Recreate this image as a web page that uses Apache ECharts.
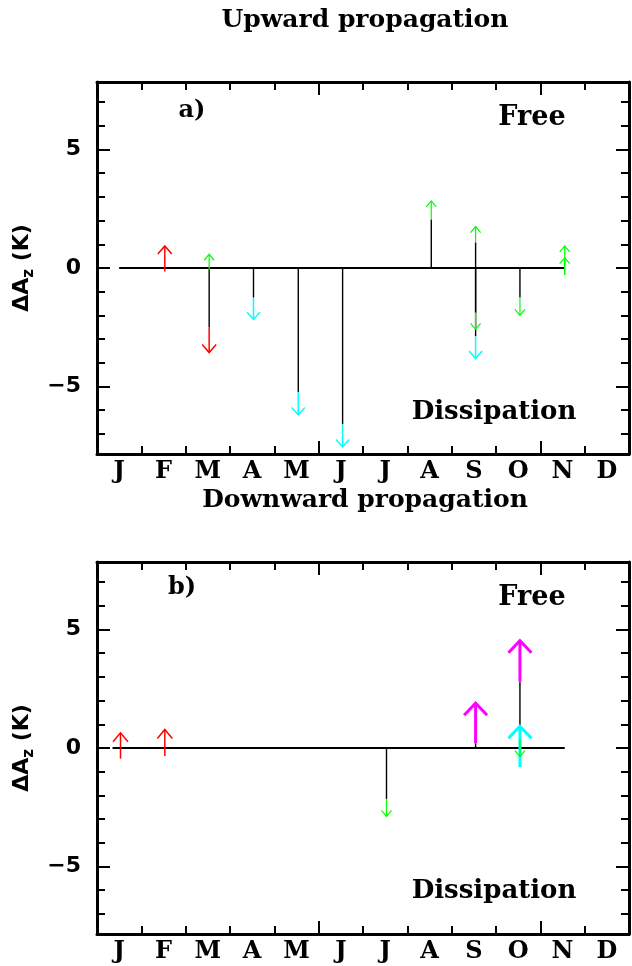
<!DOCTYPE html>
<html>
<head>
<meta charset="utf-8">
<script src="https://cdn.jsdelivr.net/npm/echarts@6/dist/echarts.min.js"></script>
<style>
  html, body { margin: 0; padding: 0; background: #fff; }
  #chart { width: 632px; height: 966px; }
</style>
</head>
<body>
<div id="chart"></div>
<script>
// month letters, one per month (labels at the middle of each month)
const monthLabels = ['J', 'F', 'M', 'A', 'M', 'J', 'J', 'A', 'S', 'O', 'N', 'D'];
const yTickLabels = [-5, 0, 5];

// arrows: [month position, tail, tip] in K
// a) upward propagation
const upperRed = [[1.53, -0.15, 0.93], [2.53, -2.5, -3.57]];
const upperGreen = [[2.53, -0.1, 0.58], [7.54, 2.05, 2.83], [8.54, 1.08, 1.75], [8.54, -1.88, -2.59],
  [9.54, -1.25, -2.0], [10.55, -0.3, 0.44], [10.55, -0.3, 0.93]];
const upperCyan = [[3.53, -1.25, -2.17], [4.54, -5.23, -6.2], [5.54, -6.6, -7.55], [8.54, -2.87, -3.82]];
const upperBaseline = [0.5, 10.55];

// b) downward propagation
const lowerRed = [[0.53, -0.45, 0.64], [1.53, -0.34, 0.78]];
const lowerGreen = [[6.53, -2.15, -2.89], [9.54, 0.35, -0.36]];
const lowerMagenta = [[8.54, 0.2, 1.89], [9.54, 2.8, 4.53]];
const lowerCyan = [[9.54, -0.8, 0.92]];
const lowerBaseline = [0.35, 10.55];

const serif = 'DejaVu Serif';
const sans = 'DejaVu Sans';
const minorX = [1, 2, 3, 4, 6, 7, 8, 9, 11];
const majorX = [5, 10];
const minorY = [-7, -6, -4, -3, -2, -1, 1, 2, 3, 4, 6, 7];
const majorY = [-5, 0, 5];
const labelX = monthLabels.map((m, i) => i + 0.5);

const chart = echarts.init(document.getElementById('chart'));

const tickStyle = { color: '#000', width: 2 };
const boxLine = { show: true, onZero: false, lineStyle: { color: '#000', width: 3 } };
const noLine = { show: false, onZero: false };

function xAxes(grid) {
  const base = { type: 'value', gridIndex: grid, min: 0, max: 12, splitLine: { show: false } };
  return [
    Object.assign({}, base, {
      position: 'bottom', axisLine: boxLine,
      axisTick: { inside: true, length: 8, customValues: minorX, lineStyle: tickStyle },
      axisLabel: {
        customValues: labelX, margin: 6, color: '#000',
        fontFamily: serif, fontWeight: 'bold', fontSize: 24,
        formatter: v => monthLabels[Math.floor(v)]
      }
    }),
    Object.assign({}, base, {
      position: 'bottom', axisLine: noLine, axisLabel: { show: false },
      axisTick: { inside: true, length: 13, customValues: majorX, lineStyle: tickStyle }
    }),
    Object.assign({}, base, {
      position: 'top', axisLine: boxLine, axisLabel: { show: false },
      axisTick: { inside: true, length: 8, customValues: minorX, lineStyle: tickStyle }
    }),
    Object.assign({}, base, {
      position: 'top', axisLine: noLine, axisLabel: { show: false },
      axisTick: { inside: true, length: 13, customValues: majorX, lineStyle: tickStyle }
    })
  ];
}

function yAxes(grid) {
  const base = { type: 'value', gridIndex: grid, min: -7.85, max: 7.85, splitLine: { show: false } };
  return [
    Object.assign({}, base, {
      position: 'left', axisLine: boxLine,
      axisTick: { inside: true, length: 8, customValues: minorY, lineStyle: tickStyle },
      axisLabel: {
        customValues: yTickLabels, margin: 16, color: '#000',
        fontFamily: sans, fontWeight: 'bold', fontSize: 22,
        formatter: v => (v < 0 ? '\u2212' + Math.abs(v) : String(v))
      },
      name: '{a|\u0394A}{s|z}{a| (K)}',
      nameLocation: 'middle', nameRotate: 90, nameGap: 58,
      nameTextStyle: {
        rich: {
          a: { fontFamily: sans, fontWeight: 'bold', fontSize: 22, color: '#000' },
          s: { fontFamily: sans, fontWeight: 'bold', fontSize: 15, color: '#000', padding: [13, 0, 0, 0] }
        }
      }
    }),
    Object.assign({}, base, {
      position: 'left', axisLine: noLine, axisLabel: { show: false },
      axisTick: { inside: true, length: 13, customValues: majorY, lineStyle: tickStyle }
    }),
    Object.assign({}, base, {
      position: 'right', axisLine: boxLine, axisLabel: { show: false },
      axisTick: { inside: true, length: 8, customValues: minorY, lineStyle: tickStyle }
    }),
    Object.assign({}, base, {
      position: 'right', axisLine: noLine, axisLabel: { show: false },
      axisTick: { inside: true, length: 13, customValues: majorY, lineStyle: tickStyle }
    })
  ];
}

// black stem from zero up to the start of the coloured part
function stemSeries(data, grid) {
  return {
    type: 'custom', xAxisIndex: grid * 4, yAxisIndex: grid * 4, z: 3,
    data: data,
    renderItem: function (params, api) {
      const x = api.value(0), from = api.value(1), to = api.value(2);
      if (from * to <= 0) return { type: 'group', children: [] };
      const a = api.coord([x, 0]), b = api.coord([x, from]);
      return {
        type: 'line', shape: { x1: a[0], y1: a[1], x2: b[0], y2: b[1] },
        style: { stroke: '#000', lineWidth: 1.4 }
      };
    }
  };
}

// coloured arrow from tail to tip, with an open V head
function arrowSeries(data, grid, color, width, head) {
  return {
    type: 'custom', xAxisIndex: grid * 4, yAxisIndex: grid * 4, z: 4,
    data: data,
    renderItem: function (params, api) {
      const x = api.value(0), from = api.value(1), to = api.value(2);
      const a = api.coord([x, from]), b = api.coord([x, to]);
      const back = to > from ? head[1] : -head[1];
      return {
        type: 'group',
        children: [
          { type: 'line', shape: { x1: a[0], y1: a[1], x2: b[0], y2: b[1] },
            style: { stroke: color, lineWidth: width } },
          { type: 'polyline',
            shape: { points: [[b[0] - head[0], b[1] + back], [b[0], b[1]], [b[0] + head[0], b[1] + back]] },
            style: { stroke: color, fill: null, lineWidth: width } }
        ]
      };
    }
  };
}

function baseline(range, grid) {
  return {
    type: 'line', xAxisIndex: grid * 4, yAxisIndex: grid * 4, z: 2,
    data: [[range[0], 0], [range[1], 0]],
    symbol: 'none', silent: true,
    lineStyle: { color: '#000', width: 2 }
  };
}

function label(text, x, y, size) {
  return {
    type: 'text', x: x, y: y,
    style: {
      text: text, fill: '#000', font: 'bold ' + size + 'px "' + serif + '"',
      textAlign: 'center', textVerticalAlign: 'middle'
    }
  };
}

chart.setOption({
  animation: false,
  backgroundColor: '#fff',
  grid: [
    { left: 97, top: 82, width: 532, height: 372 },
    { left: 97, top: 562, width: 532, height: 372 }
  ],
  xAxis: xAxes(0).concat(xAxes(1)),
  yAxis: yAxes(0).concat(yAxes(1)),
  series: [
    baseline(upperBaseline, 0),
    stemSeries(upperRed.concat(upperGreen, upperCyan), 0),
    arrowSeries(upperRed, 0, '#ff0000', 1.5, [7, 8]),
    arrowSeries(upperCyan, 0, '#00ffff', 1.5, [6.5, 7.5]),
    arrowSeries(upperGreen, 0, '#00ff00', 1.2, [5, 6]),
    baseline(lowerBaseline, 1),
    stemSeries(lowerRed.concat(lowerGreen, lowerMagenta, lowerCyan), 1),
    arrowSeries(lowerRed, 1, '#ff0000', 1.5, [7.5, 9]),
    arrowSeries(lowerMagenta, 1, '#ff00ff', 3, [11.5, 12]),
    arrowSeries(lowerCyan, 1, '#00ffff', 3, [11.5, 12]),
    arrowSeries(lowerGreen, 1, '#00ff00', 1.2, [5, 6])
  ],
  graphic: [
    label('Upward propagation', 365, 20, 25),
    label('Downward propagation', 365, 500, 25),
    label('a)', 192, 111, 24),
    label('Free', 532, 118, 27),
    label('Dissipation', 494, 412, 26),
    label('b)', 182, 588, 24),
    label('Free', 532, 598, 27),
    label('Dissipation', 494, 891, 26)
  ]
});
</script>
</body>
</html>
